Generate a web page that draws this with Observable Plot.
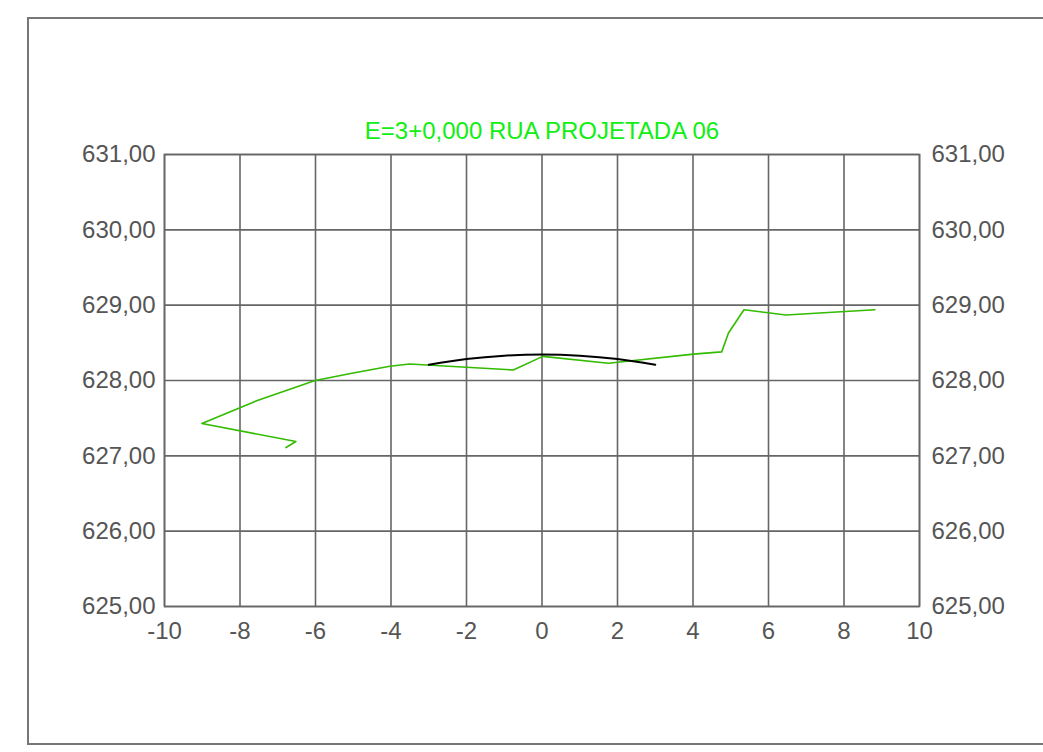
<!DOCTYPE html>
<html>
<head>
<meta charset="utf-8">
<script src="https://cdn.jsdelivr.net/npm/d3@7"></script>
<script src="https://cdn.jsdelivr.net/npm/@observablehq/plot@0.6"></script>
<style>
  html, body { margin: 0; padding: 0; background: #fff; }
  #wrap { position: relative; width: 1043px; height: 752px; overflow: hidden; }
  #outer { position: absolute; left: 27px; top: 17px; width: 1100px; height: 724px;
           border: 2px solid #777; border-right: none; pointer-events: none; box-sizing: content-box; }
</style>
</head>
<body>
<div id="wrap"><div id="outer"></div></div>
<script>
const title = "E=3+0,000 RUA PROJETADA 06";
const xTicks = [-10, -8, -6, -4, -2, 0, 2, 4, 6, 8, 10];
const yTicks = [625, 626, 627, 628, 629, 630, 631];

// Ground (terrain) profile, in drawing order
const groundX = [-6.78, -6.52, -9.01, -7.56, -6.01, -5.0, -4.03, -3.51, -0.76, 0.02, 1.76, 4.01, 4.76, 4.94, 5.35, 6.46, 8.82];
const groundY = [627.11, 627.19, 627.43, 627.73, 628.0, 628.10, 628.19, 628.22, 628.14, 628.32, 628.23, 628.35, 628.38, 628.63, 628.94, 628.87, 628.94];

// Road crown profile
const roadX = [-3.0, -2.0, -1.0, 0.0, 1.0, 2.0, 3.0];
const roadY = [628.21, 628.285, 628.33, 628.345, 628.33, 628.285, 628.21];

const ground = groundX.map((x, i) => ({x, y: groundY[i]}));
const road = roadX.map((x, i) => ({x, y: roadY[i]}));

const fmtY = d => d.toFixed(2).replace(".", ",");
const fmtX = d => String(d);
const gridColor = "#666";
const labelColor = "#555";
const fs = 24;

const chart = Plot.plot({
  width: 1043,
  height: 752,
  marginLeft: 164,
  marginRight: 124,
  marginTop: 154,
  marginBottom: 146,
  style: {fontFamily: "'Liberation Sans', Arial, sans-serif", fontSize: fs + "px", color: labelColor, background: "transparent"},
  x: {domain: [-10, 10]},
  y: {domain: [625, 631]},
  marks: [
    Plot.gridX(xTicks, {stroke: gridColor, strokeOpacity: 1, strokeWidth: 1.6}),
    Plot.gridY(yTicks, {stroke: gridColor, strokeOpacity: 1, strokeWidth: 1.6}),
    Plot.frame({stroke: gridColor, strokeWidth: 1.6}),
    Plot.axisX(xTicks, {anchor: "bottom", tickSize: 0, tickPadding: 15, tickFormat: fmtX, label: null, fill: labelColor, fontSize: fs}),
    Plot.axisY(yTicks, {anchor: "left", tickSize: 0, tickPadding: 9, tickFormat: fmtY, label: null, fill: labelColor, fontSize: fs}),
    Plot.axisY(yTicks, {anchor: "right", tickSize: 0, tickPadding: 12, tickFormat: fmtY, label: null, fill: labelColor, fontSize: fs}),
    Plot.line(ground, {x: "x", y: "y", stroke: "#33bb00", strokeWidth: 1.6}),
    Plot.line(road, {x: "x", y: "y", stroke: "#000", strokeWidth: 2, curve: "natural"}),
    Plot.text([title], {frameAnchor: "top", lineAnchor: "middle", dy: -23, text: d => d, fill: "#11ee11", fontSize: fs})
  ]
});
document.getElementById("wrap").prepend(chart);
chart.style.position = "absolute";
chart.style.left = "0";
chart.style.top = "0";
</script>
</body>
</html>
